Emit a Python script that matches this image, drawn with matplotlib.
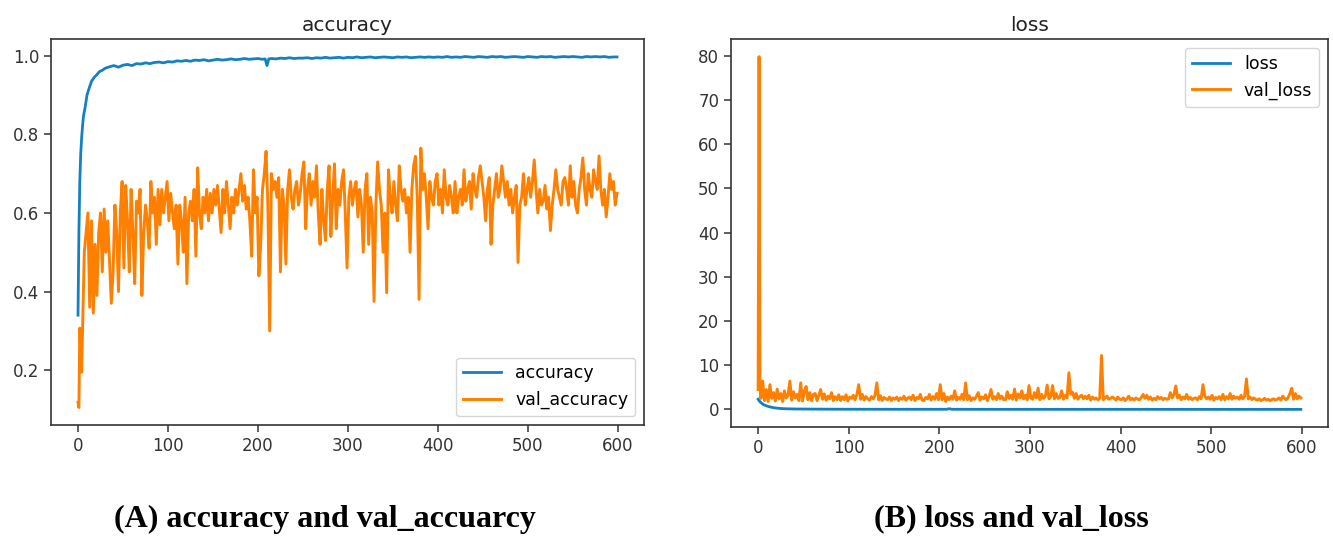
import matplotlib
matplotlib.use('Agg')
import matplotlib.pyplot as plt

# Valores (600 épocas)
epocas_acc = ([0, 1, 2, 3, 4, 5, 6, 8, 10, 12, 15, 18, 21, 24, 27] + list(range(30, 210, 5))
              + [208, 210, 212] + list(range(215, 600, 5)) + [599])
accuracy = [
    0.34, 0.55, 0.68, 0.75, 0.79, 0.82, 0.845, 0.87, 0.90, 0.915, 0.935, 0.945, 0.952, 0.960, 0.963,
    # 30-95
    0.968, 0.972, 0.975, 0.971, 0.976, 0.978, 0.975, 0.980, 0.979, 0.982, 0.980, 0.983, 0.984, 0.982,
    # 100-205
    0.985, 0.984, 0.987, 0.986, 0.988, 0.986, 0.989, 0.988, 0.990, 0.987,
    0.989, 0.991, 0.989, 0.990, 0.992, 0.990, 0.991, 0.993, 0.991, 0.992,
    0.993, 0.991,
    # 208-212 (caída puntual)
    0.992, 0.975, 0.992,
    # 215-295
    0.993, 0.992, 0.994, 0.993, 0.995, 0.993, 0.994,
    0.994, 0.995, 0.993, 0.995, 0.994, 0.996, 0.994, 0.995, 0.996, 0.994,
    # 300-395
    0.996, 0.995, 0.997, 0.995, 0.996, 0.997, 0.995, 0.996, 0.997, 0.996,
    0.995, 0.997, 0.996, 0.997, 0.995, 0.996, 0.997, 0.996, 0.997, 0.996,
    # 400-495
    0.997, 0.996, 0.998, 0.996, 0.997, 0.996, 0.998, 0.997, 0.996, 0.998,
    0.997, 0.996, 0.998, 0.997, 0.998, 0.996, 0.997, 0.998, 0.997, 0.996,
    # 500-595
    0.998, 0.997, 0.996, 0.998, 0.997, 0.998, 0.996, 0.997, 0.998, 0.997,
    0.998, 0.997, 0.996, 0.998, 0.997, 0.998, 0.997, 0.998, 0.996, 0.997,
    0.997,
]

epocas_val_acc = [0, 1, 2, 4, 5, 7] + list(range(9, 600, 2))
val_accuracy = [
    0.118, 0.105, 0.307, 0.195, 0.30, 0.50,
    0.55, 0.60, 0.36, 0.58, 0.345, 0.52, 0.39, 0.55, 0.60, 0.45, 0.61, 0.50, 0.58, 0.48, 0.37,   # 9-37
    0.45, 0.62, 0.55, 0.40, 0.60, 0.68, 0.46, 0.67, 0.58, 0.45, 0.66, 0.55, 0.42, 0.63, 0.60,    # 39-67
    0.66, 0.39, 0.55, 0.62, 0.58, 0.51, 0.68, 0.60, 0.64, 0.52, 0.66, 0.57, 0.66, 0.60, 0.64,    # 69-97
    0.68, 0.58, 0.65, 0.60, 0.56, 0.62, 0.47, 0.62, 0.58, 0.50, 0.64, 0.42, 0.60, 0.63, 0.58,    # 99-127
    0.66, 0.49, 0.715, 0.60, 0.56, 0.64, 0.60, 0.66, 0.58, 0.65, 0.60, 0.66, 0.62, 0.67, 0.61,   # 129-157
    0.55, 0.66, 0.60, 0.68, 0.62, 0.56, 0.64, 0.60, 0.66, 0.62, 0.66, 0.70, 0.63, 0.67, 0.61,    # 159-187
    0.64, 0.58, 0.49, 0.71, 0.60, 0.64, 0.44, 0.52, 0.66, 0.70, 0.757, 0.62, 0.30, 0.70, 0.66,   # 189-217
    0.68, 0.64, 0.69, 0.45, 0.66, 0.62, 0.47, 0.66, 0.71, 0.64, 0.61, 0.66, 0.68, 0.62, 0.65,    # 219-247
    0.70, 0.73, 0.56, 0.66, 0.70, 0.62, 0.68, 0.64, 0.72, 0.60, 0.52, 0.66, 0.58, 0.53, 0.66,    # 249-277
    0.72, 0.54, 0.64, 0.725, 0.56, 0.66, 0.62, 0.68, 0.71, 0.60, 0.46, 0.64, 0.68, 0.62, 0.66,   # 279-307
    0.68, 0.59, 0.66, 0.62, 0.50, 0.66, 0.70, 0.52, 0.64, 0.60, 0.375, 0.62, 0.73, 0.66, 0.62,   # 309-337
    0.50, 0.60, 0.397, 0.71, 0.64, 0.60, 0.68, 0.62, 0.58, 0.72, 0.66, 0.63, 0.66, 0.60, 0.64,   # 339-367
    0.50, 0.66, 0.72, 0.744, 0.64, 0.38, 0.765, 0.66, 0.70, 0.64, 0.56, 0.68, 0.64, 0.62, 0.68,  # 369-397
    0.70, 0.62, 0.66, 0.60, 0.71, 0.64, 0.62, 0.67, 0.64, 0.60, 0.68, 0.60, 0.64, 0.66, 0.62,    # 399-427
    0.71, 0.63, 0.66, 0.68, 0.61, 0.70, 0.66, 0.64, 0.69, 0.72, 0.68, 0.64, 0.58, 0.66, 0.69,    # 429-457
    0.52, 0.62, 0.66, 0.70, 0.64, 0.66, 0.72, 0.68, 0.64, 0.68, 0.62, 0.66, 0.60, 0.64, 0.67,    # 459-487
    0.474, 0.62, 0.64, 0.70, 0.62, 0.66, 0.69, 0.64, 0.68, 0.735, 0.66, 0.60, 0.66, 0.62, 0.63,  # 489-517
    0.67, 0.61, 0.64, 0.555, 0.62, 0.66, 0.71, 0.66, 0.64, 0.62, 0.68, 0.69, 0.66, 0.62, 0.72,   # 519-547
    0.64, 0.68, 0.62, 0.60, 0.66, 0.69, 0.74, 0.66, 0.62, 0.70, 0.66, 0.64, 0.71, 0.68, 0.66,    # 549-577
    0.745, 0.66, 0.62, 0.66, 0.59, 0.64, 0.70, 0.66, 0.68, 0.62, 0.65,                           # 579-599
]

epocas_loss = [0, 1, 2, 3, 4, 5, 6, 8, 10, 12, 15, 18, 22, 26, 30, 40, 60, 80,
               100, 150, 200, 208, 211, 214, 250, 300, 400, 500, 599]
loss = [2.3, 2.0, 1.75, 1.55, 1.38, 1.22, 1.1, 0.9, 0.75, 0.62, 0.48, 0.36, 0.26, 0.19, 0.15,
        0.10, 0.07, 0.05, 0.04, 0.03, 0.03, 0.03, 0.15, 0.03, 0.02, 0.02, 0.02, 0.01, 0.01]

epocas_val_loss = [0, 1, 2] + list(range(3, 600, 2))
val_loss = [
    4.5, 79.8, 5.0,
    2.5, 6.4, 2.0, 4.5, 1.8, 5.6, 2.5, 3.8, 1.9, 4.6, 2.4, 3.6, 1.8, 4.2, 2.6,     # 3-31
    3.2, 6.4, 2.1, 4.0, 2.6, 3.4, 2.0, 6.0, 1.9, 4.2, 5.2, 2.2, 3.8, 2.0, 3.4,     # 33-61
    3.6, 2.0, 3.2, 4.5, 2.3, 3.5, 2.1, 3.0, 2.4, 3.8, 2.0, 2.9, 2.2, 3.3, 2.0,     # 63-91
    2.9, 2.2, 3.3, 1.9, 2.8, 2.5, 3.2, 2.2, 3.4, 5.6, 2.3, 3.4, 2.1, 2.9, 2.4,     # 93-121
    2.1, 2.9, 2.4, 3.2, 6.0, 2.2, 3.1, 2.0, 2.7, 2.4, 2.2, 2.8, 2.0, 2.6, 2.3,     # 123-151
    2.8, 2.0, 2.6, 2.3, 3.0, 2.1, 2.5, 2.8, 2.2, 3.2, 2.0, 2.7, 2.4, 3.4, 2.1,     # 153-181
    2.0, 2.7, 2.4, 3.4, 2.1, 2.9, 2.3, 3.6, 2.2, 5.6, 2.2, 3.6, 1.8, 2.8, 2.2,     # 183-211
    3.0, 2.3, 4.2, 2.1, 2.7, 2.3, 3.4, 2.2, 6.0, 2.2, 3.1, 2.0, 2.6, 2.3, 3.0,     # 213-241
    3.8, 2.1, 2.8, 2.4, 3.3, 2.0, 2.9, 4.5, 2.3, 2.9, 2.2, 3.6, 2.4, 3.0, 2.2,     # 243-271
    2.2, 4.0, 2.5, 3.2, 2.3, 4.6, 2.1, 3.5, 2.6, 4.2, 2.4, 3.2, 2.2, 5.4, 2.6,     # 273-301
    2.3, 3.8, 2.6, 4.8, 2.2, 3.4, 2.5, 3.0, 5.5, 2.4, 3.0, 5.4, 2.4, 3.6, 2.5,     # 303-331
    2.7, 4.2, 2.3, 3.2, 2.6, 8.3, 3.4, 3.9, 2.5, 3.6, 2.3, 2.9, 3.2, 2.4, 3.0,     # 333-361
    2.4, 3.2, 2.1, 2.8, 2.3, 2.6, 2.2, 2.5, 12.2, 2.2, 2.6, 3.0, 2.3, 2.5, 2.8,    # 363-391
    2.5, 2.1, 2.8, 2.3, 2.2, 2.6, 2.0, 2.4, 3.0, 2.2, 2.5, 2.1, 2.6, 2.3, 2.2,     # 393-421
    2.7, 3.4, 2.5, 3.2, 2.3, 2.8, 2.1, 2.5, 2.2, 2.9, 2.4, 2.7, 2.2, 2.5, 2.3,     # 423-451
    2.4, 3.8, 2.6, 3.4, 5.3, 2.6, 3.2, 2.2, 2.8, 2.4, 3.4, 2.3, 2.7, 2.2, 2.5,     # 453-481
    2.6, 2.2, 2.9, 2.4, 5.6, 3.0, 2.4, 2.8, 2.3, 3.2, 2.1, 2.7, 2.4, 2.9, 2.2,     # 483-511
    3.4, 2.2, 2.9, 2.4, 3.6, 2.3, 3.0, 2.5, 2.8, 2.3, 3.2, 2.4, 3.0, 6.9, 2.4,     # 513-541
    2.8, 2.2, 2.6, 2.3, 2.1, 2.4, 2.0, 2.2, 2.5, 2.1, 2.3, 2.0, 2.2, 2.4, 2.1,     # 543-571
    2.3, 2.6, 2.1, 3.0, 2.5, 2.2, 2.7, 3.6, 4.8, 2.3, 3.6, 2.4, 3.0, 2.6,          # 573-599
]

AZUL = '#1380c2'
NARANJA = '#ff8000'
GRIS = '#333333'

plt.rcParams['font.family'] = 'DejaVu Sans'


def estilo_ejes(ax):
    """Ajusta bordes y marcas al estilo de la figura original"""
    for spine in ax.spines.values():
        spine.set_color(GRIS)
        spine.set_linewidth(1.2)
    ax.tick_params(colors=GRIS, labelsize=12, length=5, width=1.1)
    ax.set_xticks(range(0, 601, 100))


def graficar_accuracy(ax):
    """Curvas de accuracy y val_accuracy"""
    ax.plot(epocas_acc, accuracy, color=AZUL, lw=2, label='accuracy')
    ax.plot(epocas_val_acc, val_accuracy, color=NARANJA, lw=2.1, label='val_accuracy')
    ax.set_title('accuracy', fontsize=14.5, color='#222222')
    ax.set_yticks([0.2, 0.4, 0.6, 0.8, 1.0])
    estilo_ejes(ax)
    ax.legend(loc='lower right', fontsize=12.5, handlelength=2.2)


def graficar_loss(ax):
    """Curvas de loss y val_loss"""
    ax.plot(epocas_loss, loss, color=AZUL, lw=2, label='loss')
    ax.plot(epocas_val_loss, val_loss, color=NARANJA, lw=2.1, label='val_loss')
    ax.set_title('loss', fontsize=14.5, color='#222222')
    ax.set_yticks(range(0, 81, 10))
    estilo_ejes(ax)
    ax.legend(loc='upper right', fontsize=12.5, handlelength=2.2)


def main():
    fig = plt.figure(figsize=(13.33, 5.38), dpi=100)
    ax1 = fig.add_axes([0.0383, 0.21, 0.4448, 0.7175])
    ax2 = fig.add_axes([0.5484, 0.2063, 0.4478, 0.7212])

    graficar_accuracy(ax1)
    graficar_loss(ax2)

    # Pies de figura
    fig.text(0.244, 0.035, '(A) accuracy and val_accuarcy', ha='center', va='center',
             fontsize=23, fontweight='bold', family='Liberation Serif')
    fig.text(0.759, 0.035, '(B) loss and val_loss', ha='center', va='center',
             fontsize=23, fontweight='bold', family='Liberation Serif')

    fig.savefig('out.png', dpi=100)


if __name__ == "__main__":
    main()
